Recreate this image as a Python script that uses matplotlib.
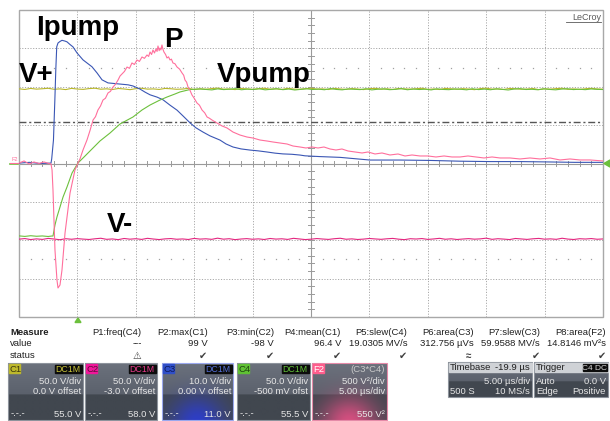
import numpy as np
import matplotlib.pyplot as plt
from matplotlib.patches import Rectangle, Polygon

plt.rcParams["font.family"] = ["Liberation Sans", "DejaVu Sans"]

# --- acquisition settings (channel boxes) ---
T_DIV = 5.0      # us/div
T_LEFT = -5.1    # time at left edge of grid, us
SCALE = {"C1": 50.0, "C2": 50.0, "C3": 10.0, "C4": 50.0, "F2": 500.0}
OFFSET = {"C1": 0.0, "C2": -3.0, "C3": 0.0, "C4": -0.5, "F2": 0.0}

# --- C1: V+ (V), sampled every 0.5 us over the record ---
c1_v = [97.3, 96.5, 97.8, 96.9, 97.4, 98.0, 96.7, 97.2, 96.3, 97.9, 97.0, 96.6, 97.6, 98.1,
        96.8, 97.3, 96.4, 97.7, 97.1, 96.2, 97.5, 98.0, 96.9, 97.2, 96.5, 97.8, 97.4, 96.7,
        97.0, 97.9, 96.4, 97.3, 96.8, 97.6, 98.2, 96.9, 97.1, 96.3, 97.7, 97.2, 96.6, 97.5,
        98.0, 96.8, 97.3, 96.5, 97.9, 97.0, 96.7, 97.4, 98.1, 96.9, 97.2, 96.4, 97.8, 97.1,
        96.6, 97.6, 97.0, 96.3, 97.5, 97.9, 96.8, 97.3, 96.5, 97.7, 97.2, 96.9, 97.4, 98.0,
        96.6, 97.1, 96.4, 97.8, 97.3, 96.7, 97.5, 97.0, 96.2, 97.6, 98.1, 96.9, 97.2, 96.5,
        97.8, 97.4, 96.8, 97.0, 97.7, 96.3, 97.3, 96.9, 97.6, 98.0, 96.6, 97.2, 96.5, 97.4,
        97.9, 97.1, 96.8]

# --- C2: V- (V) ---
c2_v = [-95.6, -94.8, -96.1, -95.2, -95.9, -94.6, -95.4, -96.3, -95.0, -95.7, -94.9, -95.5,
        -96.0, -95.1, -94.4, -95.8, -95.3, -96.2, -94.7, -95.6, -95.0, -95.9, -94.5, -95.4,
        -96.1, -95.2, -94.8, -95.7, -95.3, -96.0, -94.6, -95.5, -95.1, -95.8, -94.3, -95.6,
        -95.0, -96.2, -95.4, -94.9, -95.7, -95.2, -96.0, -94.7, -95.5, -95.1, -95.9, -94.5,
        -95.3, -96.1, -95.6, -94.8, -95.4, -95.9, -95.0, -94.4, -95.7, -95.2, -96.0, -95.5,
        -94.7, -95.3, -95.8, -95.1, -94.6, -95.6, -96.2, -95.0, -95.4, -94.8, -95.9, -95.3,
        -94.5, -95.7, -95.1, -96.0, -95.4, -94.9, -95.6, -95.2, -94.3, -95.8, -95.0, -95.5,
        -96.1, -94.7, -95.3, -95.9, -95.1, -94.6, -95.6, -95.2, -95.8, -94.4, -95.5, -96.0,
        -95.0, -95.4, -94.8, -95.7, -95.3]

# --- C3: Ipump (V at probe output) ---
c3_t = [-5.1, -4.2, -3.3, -2.36, -2.30, -2.15, -2.03, -1.95, -1.87, -1.76, -1.59, -1.42,
        -1.16, -0.99, -0.73, -0.48, -0.13, 0.38, 1.15, 1.58, 2.01, 2.52, 2.87, 3.55, 4.24,
        4.66, 5.26, 5.69, 6.12, 6.72, 7.23, 7.83, 8.43, 8.94, 9.54, 10.05, 10.65, 11.25,
        12.11, 12.62, 13.22, 13.91, 14.68, 15.36, 16.13, 16.82, 17.50, 18.27, 18.96, 19.39,
        20.67, 22.38, 24.95, 27.52, 30.09, 32.66, 35.23, 37.79, 40.36, 42.50, 44.9]
c3_v = [0.1, 0.3, 0.0, 0.1, 1.2, 6.1, 16.6, 24.4, 30.4, 31.4, 31.8, 32.1,
        31.9, 31.7, 31.0, 30.4, 28.8, 27.0, 25.2, 23.6, 21.8, 21.0, 20.9, 20.7, 20.5,
        20.2, 19.4, 18.6, 17.9, 17.3, 16.6, 15.2, 13.9, 12.4, 10.6, 9.3, 8.2, 7.2,
        6.1, 5.1, 4.3, 3.8, 3.5, 3.3, 3.0, 2.7, 2.5, 2.4, 2.2, 2.0,
        1.8, 1.6, 0.9, 0.9, 0.8, 0.6, 0.5, 0.5, 0.4, 0.3, 0.3]

# --- C4: Vpump (V) ---
c4_t = [-5.1, -4.6, -4.1, -3.6, -3.1, -2.6, -2.3, -2.19, -2.02, -1.85, -1.59, -1.33, -0.99,
        -0.56, -0.05, 0.47, 0.98, 1.83, 2.69, 3.55, 4.66, 5.43, 6.12, 6.97, 7.57, 8.26,
        8.68, 9.54, 10.40]
c4_v = [-93.8, -94.5, -93.6, -94.3, -93.9, -94.6, -94.0, -94.0, -79.6, -69.2, -56.2, -43.2,
        -30.1, -11.9, 1.2, 9.0, 16.8, 29.8, 40.2, 52.0, 61.1, 70.2, 76.7, 83.2, 87.1, 91.1,
        93.7, 96.9, 97.6]
c4_tail = [97.0, 96.4, 97.7, 96.8, 97.3, 98.0, 96.6, 97.4, 96.9, 97.8, 96.5, 97.2, 97.9,
           96.7, 97.5, 96.3, 97.1, 97.8, 96.9, 97.4, 96.6, 98.1, 97.0, 96.5, 97.6, 97.2,
           96.8, 97.9, 96.4, 97.3, 97.7, 96.7, 97.1, 98.0, 96.6, 97.5, 96.9, 97.3, 96.4,
           97.8, 97.0, 96.7, 97.6, 97.2, 96.5, 97.9, 96.8, 97.4, 96.6, 97.7, 97.1, 96.3,
           97.5, 98.0, 96.9, 97.2, 96.6, 97.8, 97.0, 96.5, 97.4, 97.9, 96.8, 97.3, 96.7,
           97.6, 97.1, 96.9]

# --- F2 = C3*C4: P (V^2) ---
f2_t = [-5.10, -4.67, -4.24, -3.82, -3.39, -2.96, -2.53, -2.36, -2.27, -2.19, -2.02, -1.85,
        -1.76, -1.59, -1.42, -1.16, -0.73, -0.31, -0.05, 0.12, 0.38, 0.72, 0.98, 1.24, 1.45,
        1.66, 1.88, 2.09, 2.30, 2.52, 2.73, 2.95, 3.15, 3.38, 3.55, 3.72, 3.93, 4.15, 4.36,
        4.57, 4.78, 5.00, 5.21, 5.43, 5.64, 5.86, 6.00, 6.12, 6.25, 6.37, 6.50, 6.63, 6.72,
        6.80, 6.90, 6.97, 7.05, 7.14, 7.22, 7.31, 7.45, 7.57, 7.70, 7.83, 7.95, 8.08, 8.25,
        8.43, 8.65, 8.86, 9.00, 9.11, 9.25, 9.37, 9.55, 9.71, 9.90, 10.14, 10.35, 10.57,
        10.80, 11.00, 11.20, 11.42, 11.85, 12.28, 12.71, 13.22, 13.82, 14.42, 14.93, 15.53,
        16.13, 16.65, 17.25, 17.85, 18.36, 18.96, 19.47, 19.99, 20.50, 21.01, 21.53, 22.04,
        22.55, 23.07, 23.67, 24.27, 24.78, 25.38, 25.98, 26.66, 27.35, 27.95, 28.55, 29.23,
        29.92, 30.60, 31.29, 31.97, 32.66, 33.34, 34.03, 34.71, 35.40, 36.08, 36.94, 37.79,
        38.65, 39.51, 40.36, 41.22, 42.07, 42.93, 43.79, 44.90]
f2_v = [6, 33, -6, 20, 0, 20, 0, -6, -85, -345, -1127, -1518,
        -1622, -1583, -1388, -906, -384, -85, 6, 59, 176, 306, 430, 567, 610,
        697, 750, 827, 850, 919, 940, 997, 1030, 1088, 1140, 1166, 1200, 1257, 1240,
        1310, 1290, 1349, 1330, 1388, 1370, 1414, 1395, 1453, 1420, 1479, 1440, 1492, 1460,
        1531, 1470, 1505, 1480, 1544, 1490, 1453, 1420, 1375, 1390, 1349, 1360, 1310, 1300,
        1257, 1230, 1179, 1150, 1088, 1060, 997, 950, 893, 850, 788, 760, 697,
        660, 606, 590, 567, 528, 489, 463, 410, 371, 345, 332, 306,
        293, 280, 267, 254, 228, 215, 202, 215, 202, 215, 189, 176,
        189, 163, 150, 137, 150, 124, 137, 111, 124, 98, 111, 98,
        98, 85, 98, 85, 85, 98, 85, 72, 85, 72, 72, 59,
        72, 59, 72, 46, 59, 46, 46, 33]

T_RIGHT = T_LEFT + 10 * T_DIV
c1_t = np.linspace(T_LEFT, T_RIGHT, len(c1_v))
c2_t = np.linspace(T_LEFT, T_RIGHT, len(c2_v))
c4_t = np.concatenate([c4_t, np.linspace(10.9, T_RIGHT, len(c4_tail))])
c4_v = np.concatenate([c4_v, c4_tail])


def to_div(ch, v):
    return (np.asarray(v, dtype=float) + OFFSET[ch]) / SCALE[ch]


COL = {"C1": "#b8b62a", "C2": "#e3267f", "C3": "#3a56b4", "C4": "#6cc03c", "F2": "#ff6f9c"}

fig = plt.figure(figsize=(6.1, 4.21), dpi=100)
fig.patch.set_facecolor("white")

# scope grid area
ax = fig.add_axes([19 / 610, (421 - 317) / 421, 584 / 610, 307 / 421], zorder=1)
ax.set_xlim(T_LEFT, T_RIGHT)
ax.set_ylim(-4, 4)
ax.axis("off")

grid_kw = dict(color="#a9a9a9", lw=0.7, ls=(0, (1.2, 1.6)), zorder=1)
for k in range(1, 10):
    if k != 5:
        ax.axvline(T_LEFT + k * T_DIV, **grid_kw)
for k in (-3, -2, -1, 1, 2, 3):
    ax.axhline(k, **grid_kw)

# sparse dotted rows at +/-2.5 div
minor_t = [T_LEFT + T_DIV * (j / 5) for j in range(1, 50) if j % 5]
for row in (2.5, -2.5):
    ax.plot(minor_t, [row] * len(minor_t), ls="none", marker="s", ms=0.9,
            color="#a0a0a0", mew=0, zorder=1)

# centre cross with minor ticks
tc = T_LEFT + 5 * T_DIV
ax.axvline(tc, color="#9a9a9a", lw=0.8, zorder=1)
ax.axhline(0, color="#9a9a9a", lw=0.8, zorder=1)
for j in range(1, 50):
    x = T_LEFT + T_DIV * j / 5
    ax.plot([x, x], [-0.06, 0.06], color="#9a9a9a", lw=0.7, zorder=1)
for j in range(-19, 20):
    y = j / 5
    ax.plot([tc - 0.22, tc + 0.22], [y, y], color="#9a9a9a", lw=0.7, zorder=1)

# frame
ax.add_patch(Rectangle((T_LEFT, -4), 10 * T_DIV, 8, fill=False, ec="#a8a8a8", lw=1.0,
                       zorder=1, clip_on=False))

# dash-dot level marker
ax.axhline(1.09, color="#555555", lw=1.0, dashes=(5, 2, 1.5, 2), zorder=2)

# traces
ax.plot(c1_t, to_div("C1", c1_v), color=COL["C1"], lw=0.8, zorder=3)
ax.plot(c2_t, to_div("C2", c2_v), color=COL["C2"], lw=0.8, zorder=3)
ax.plot(c3_t, to_div("C3", c3_v), color=COL["C3"], lw=0.8, zorder=4)
ax.plot(c4_t, to_div("C4", c4_v), color=COL["C4"], lw=0.8, zorder=4)
ax.plot(f2_t, to_div("F2", f2_v), color=COL["F2"], lw=0.8, zorder=5)

# overlay in pixel coordinates for annotations and the status panel
ui = fig.add_axes([0, 0, 1, 1], zorder=2)
ui.axis("off")

for txt, x, y in [("Ipump", 36, 35), ("P", 164, 47), ("V+", 19, 82),
                  ("Vpump", 217, 82), ("V-", 107, 232)]:
    ui.text(x, y, txt, fontsize=20, fontweight="bold", color="black",
            ha="left", va="baseline")

ui.text(601, 20, "LeCroy", fontsize=6.5, color="#5a5a5a", ha="right", va="baseline")
ui.plot([566, 601], [21.5, 21.5], color="#5a5a5a", lw=0.6)

# ground / trigger markers
ui.text(15, 161, "F2", fontsize=4, color=COL["F2"], ha="center", va="baseline")
ui.plot([10, 18], [164, 164], color=COL["C4"], lw=1.2)
ui.plot([10, 18], [162.5, 162.5], color=COL["F2"], lw=0.8)
ui.add_patch(Polygon([(604, 163.5), (610, 160), (610, 167)], color=COL["C4"]))
ui.add_patch(Polygon([(78, 318), (75, 322.5), (81, 322.5)], color=COL["C4"]))

# measurement table
small = 6.8
ui.text(10, 335, "Measure", fontsize=small, fontweight="bold", color="#202020")
ui.text(10, 346.5, "value", fontsize=small, color="#202020")
ui.text(10, 357.5, "status", fontsize=small, color="#202020")

meas_names = ["P1:freq(C4)", "P2:max(C1)", "P3:min(C2)", "P4:mean(C1)", "P5:slew(C4)",
              "P6:area(C3)", "P7:slew(C3)", "P8:area(F2)"]
meas_values = ["---", "99 V", "-98 V", "96.4 V", "19.0305 MV/s", "312.756 µVs",
               "59.9588 MV/s", "14.8146 mV²s"]
meas_status = ["⚠", "✔", "✔", "✔", "✔", "≈", "✔", "✔"]
col_right = [141.5, 207.5, 274, 341, 407.5, 473.5, 540, 606]
for name, val, st, xr in zip(meas_names, meas_values, meas_status, col_right):
    ui.text(xr, 335, name, fontsize=small, color="#202020", ha="right")
    ui.text(xr, 346.5, val, fontsize=small, color="#202020", ha="right")
    ui.text(xr - 4.5, 358.5, st, fontsize=7, color="#404040", ha="center", fontweight="bold")


def hexrgb(h):
    return np.array([int(h[i:i + 2], 16) for i in (1, 3, 5)]) / 255.0


def panel(x0, x1, y0, y1, glow=None):
    h, w = 40, 40
    yy = np.linspace(0, 1, h)[:, None]
    xx = np.linspace(0, 1, w)[None, :]
    top, mid, low = hexrgb("#6b717c"), hexrgb("#5b616c"), hexrgb("#41474f")
    img = np.where((yy < 0.55)[..., None],
                   top + (mid - top) * (yy / 0.55)[..., None],
                   low + 0 * yy[..., None])
    img = np.broadcast_to(img, (h, w, 3)).copy()
    if glow is not None:
        g = np.exp(-((xx - 0.5) / 0.38) ** 2 - ((yy - 1.05) / 0.45) ** 2)[..., None]
        img = img * (1 - 0.85 * g) + hexrgb(glow) * 0.85 * g
    ui.imshow(img, extent=(x0, x1, y1, y0), aspect="auto", zorder=1, interpolation="bilinear")


def box(x0, x1, tag, tagcol, tagtxt, right, rightcol, l1, l2, foot, glow=None, edge="#8d939c"):
    y0, y1 = 363, 420
    panel(x0, x1, y0, y1, glow)
    ui.add_patch(Rectangle((x0, y0), x1 - x0, y1 - y0, fill=False, ec=edge, lw=0.8, zorder=2))
    ui.add_patch(Rectangle((x0 + 1, y0 + 1), 11, 9, color=tagcol, zorder=2))
    ui.text(x0 + 1.5, y0 + 9, tag, fontsize=small, color=tagtxt, zorder=3)
    if rightcol is not None:
        ui.add_patch(Rectangle((x1 - 28, y0 + 1.5), 26.5, 8, color="#0c0c0c", zorder=2))
        ui.text(x1 - 2.5, y0 + 9, right, fontsize=small - 0.5, color=rightcol, ha="right",
                zorder=3)
    else:
        ui.text(x1 - 2, y0 + 9, right, fontsize=small, color="#c8c8c8", ha="right", zorder=3)
    ui.text(x1 - 2, 384, l1, fontsize=small, color="#e6e6e6", ha="right", zorder=3)
    ui.text(x1 - 2, 394, l2, fontsize=small, color="#e6e6e6", ha="right", zorder=3)
    ui.text(x0 + 3, 416.5, "-.-.-", fontsize=small, color="#e6e6e6", zorder=3)
    ui.text(x1 - 2, 417, foot, fontsize=small, color="#e6e6e6", ha="right", zorder=3)


box(8, 83, "C1", "#bdb82c", "#3a3810", "DC1M", "#c9c43a", "50.0 V/div", "0.0 V offset", "55.0 V")
box(85, 157, "C2", "#f0169a", "#5a0d38", "DC1M", "#e83a8c", "50.0 V/div", "-3.0 V offset", "58.0 V")
box(162, 233, "C3", "#2f4fc8", "#0e1a5a", "DC1M", "#5470d8", "10.0 V/div", "0.00 V offset",
    "11.0 V", glow="#2a3cdc", edge="#9aa8ee")
box(237, 310, "C4", "#5fc133", "#1d4010", "DC1M", "#63c23a", "50.0 V/div", "-500 mV ofst", "55.5 V")
box(312, 387, "F2", "#ff5d8c", "#ffffff", "(C3*C4)", None, "500 V²/div", "5.00 µs/div",
    "550 V²", glow="#ee5088", edge="#e58aa8")

# timebase and trigger panels
for x0, x1 in [(448, 532), (534, 608)]:
    panel(x0, x1, 362, 397)
    ui.add_patch(Rectangle((x0, 362), x1 - x0, 35, fill=False, ec="#8d939c", lw=0.8, zorder=2))
    ui.add_patch(Rectangle((x0 + 0.5, 362.5), x1 - x0 - 1, 9, color="#cfd2d6", zorder=2))

ui.text(450, 370.5, "Timebase", fontsize=small, color="#202020", zorder=3)
ui.text(530, 370.5, "-19.9 µs", fontsize=small, color="#202020", ha="right", zorder=3)
ui.text(530, 384, "5.00 µs/div", fontsize=small, color="#e6e6e6", ha="right", zorder=3)
ui.text(450, 394, "500 S", fontsize=small, color="#e6e6e6", zorder=3)
ui.text(530, 394, "10 MS/s", fontsize=small, color="#e6e6e6", ha="right", zorder=3)

ui.text(536, 370.5, "Trigger", fontsize=small, color="#202020", zorder=3)
ui.add_patch(Rectangle((583, 363.5), 24, 7.5, color="#0c0c0c", zorder=3))
ui.text(595, 370.2, "C4 DC", fontsize=small - 0.8, color="#d8d8d8", ha="center", zorder=4)
ui.text(536, 384, "Auto", fontsize=small, color="#e6e6e6", zorder=3)
ui.text(606, 384, "0.0 V", fontsize=small, color="#e6e6e6", ha="right", zorder=3)
ui.text(536, 394, "Edge", fontsize=small, color="#e6e6e6", zorder=3)
ui.text(606, 394, "Positive", fontsize=small, color="#e6e6e6", ha="right", zorder=3)

ui.set_xlim(0, 610)
ui.set_ylim(421, 0)

fig.savefig("out.png", dpi=100)
